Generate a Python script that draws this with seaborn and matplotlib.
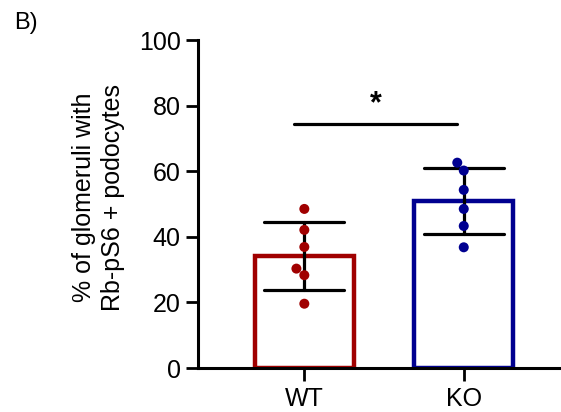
import numpy as np
import pandas as pd
import matplotlib
matplotlib.use("Agg")
import matplotlib.pyplot as plt
import seaborn as sns

# 数据
groups = ["WT", "KO"]
wt_values = [48.5, 42.1, 36.9, 30.3, 28.3, 19.6]
ko_values = [60.2, 62.6, 54.3, 48.5, 43.3, 36.8]
bar_colors = ["#A00000", "#000090"]
y_ticks = [0, 20, 40, 60, 80, 100]
sig_label = "*"
sig_y = 74.4

df = pd.DataFrame({
    "group": ["WT"] * len(wt_values) + ["KO"] * len(ko_values),
    "value": wt_values + ko_values,
})

sns.set_style("ticks")
plt.rcParams["font.family"] = ["Liberation Sans", "DejaVu Sans"]
plt.rcParams["text.color"] = "black"
plt.rcParams["axes.labelcolor"] = "black"
plt.rcParams["xtick.color"] = "black"
plt.rcParams["ytick.color"] = "black"

fig = plt.figure(figsize=(5.61, 4.12), dpi=100)
ax = fig.add_axes([198 / 561, 44 / 412, 1 - 198 / 561, 328 / 412])

sns.barplot(data=df, x="group", y="value", hue="group", order=groups,
            palette=bar_colors, fill=False, width=0.62, linewidth=3.2,
            errorbar="sd", capsize=0.5,
            err_kws={"color": "black", "linewidth": 2.3}, legend=False, ax=ax)
sns.swarmplot(data=df, x="group", y="value", hue="group", order=groups,
              palette=bar_colors, size=7.2, legend=False, ax=ax, zorder=4)

ax.set_xlim(-0.667, 1.61)
ax.set_ylim(0, 100)
ax.set_yticks(y_ticks)
ax.set_xlabel("")
ax.set_ylabel("% of glomeruli with\nRb-pS6 + podocytes", fontsize=18, linespacing=1.3)
ax.yaxis.set_label_coords(-0.2, 0.52)
ax.tick_params(axis="both", labelsize=18, width=2, length=9, color="black")
ax.tick_params(axis="x", pad=5)
for side in ["left", "bottom"]:
    ax.spines[side].set_linewidth(2.2)
    ax.spines[side].set_color("black")
    ax.spines[side].set_zorder(5)
sns.despine(ax=ax)

# 显著性标记
ax.plot([-0.063, 0.956], [sig_y, sig_y], color="black", linewidth=2.3, clip_on=False)
ax.text(0.446, sig_y + 1.5, sig_label, ha="center", va="bottom", fontsize=22,
        fontweight="bold")

fig.text(14 / 561, 1 - 12 / 412, "B)", ha="left", va="top", fontsize=17)

fig.savefig("out.png", dpi=100)
